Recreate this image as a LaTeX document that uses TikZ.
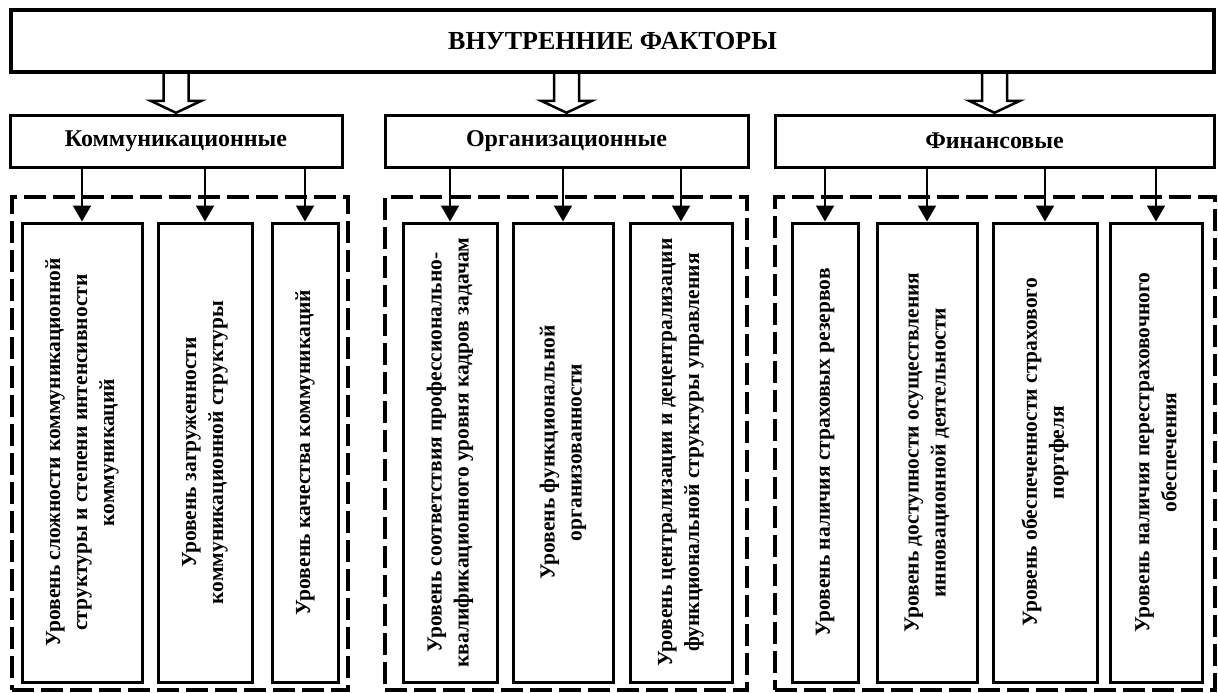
\documentclass[tikz,border=0pt]{standalone}
\usepackage{fontspec}
\setmainfont{Liberation Serif}
\usetikzlibrary{arrows.meta, positioning, calc}

\begin{document}
\begin{tikzpicture}[x=1pt, y=-1pt,
    every node/.style={draw, line width=3pt, inner sep=0pt},
    head/.style={line width=3.5pt, minimum width=1203pt, minimum height=62pt, font=\fontsize{26}{30}\selectfont\bfseries},
    cat/.style={minimum height=52pt, font=\fontsize{24}{28}\selectfont\bfseries},
    item/.style={rotate=90, minimum width=459pt, align=center, font=\fontsize{21.5}{27}\selectfont\bfseries},
    group/.style={line width=3.5pt, dash pattern=on 22pt off 7pt, minimum height=493pt},
    link/.style={line width=2pt, -{Triangle[width=18pt, length=16pt]}},
    big/.style={line width=2.5pt, miter limit=20}]
        \useasboundingbox (0,0) rectangle (1218,693);

        % Внутренние факторы
        \node[head] (top) at (612.5,41) {ВНУТРЕННИЕ ФАКТОРЫ};

        \node[cat, minimum width=332pt] (comm) at (176,141) {Коммуникационные};
        \node[cat, minimum width=363pt] (org) at (566.5,141) {Организационные};
        \node[cat, minimum width=439pt] (fin) at (994.5,141) {Финансовые};

        % полые стрелки
        \foreach \n in {comm, org, fin}
            \draw[big] ($(top.south -| \n)+(-12.5,0)$) -- ++(0,27) -- ++(-13,0) -- ++(25.5,12)
                -- ++(25.5,-12) -- ++(-13,0) -- ++(0,-27);

        % группы
        \node[group, minimum width=336pt] (g1) at (180,443.5) {};
        \node[group, minimum width=362pt] (g2) at (566,443.5) {};
        \node[group, minimum width=440pt] (g3) at (995,443.5) {};

        % коммуникационные
        \node[item, minimum height=120pt] (a1) at (82,452.5) {Уровень сложности коммуникационной\\структуры и степени интенсивности\\коммуникаций};
        \node[item, minimum height=94pt] (a2) at (205,452.5) {Уровень загруженности\\коммуникационной структуры};
        \node[item, minimum height=66pt] (a3) at (305,452.5) {Уровень качества коммуникаций};

        % организационные
        \node[item, minimum height=94pt] (b1) at (450,452.5) {Уровень соответствия профессионально-\\квалификационного уровня кадров задачам};
        \node[item, minimum height=100pt] (b2) at (563,452.5) {Уровень функциональной\\организованности};
        \node[item, minimum height=102pt] (b3) at (681,452.5) {Уровень централизации и децентрализации\\функциональной структуры управления};

        % финансовые
        \node[item, minimum height=66pt] (c1) at (825,452.5) {Уровень наличия страховых резервов};
        \node[item, minimum height=100pt] (c2) at (927,452.5) {Уровень доступности осуществления\\инновационной деятельности};
        \node[item, minimum height=104pt] (c3) at (1045,452.5) {Уровень обеспеченности страхового\\портфеля};
        \node[item, minimum height=92pt] (c4) at (1156,452.5) {Уровень наличия перестраховочного\\обеспечения};

        \foreach \i in {a1, a2, a3}
            \draw[link] (comm.south -| \i) -- (\i.east);
        \foreach \i in {b1, b2, b3}
            \draw[link] (org.south -| \i) -- (\i.east);
        \foreach \i in {c1, c2, c3, c4}
            \draw[link] (fin.south -| \i) -- (\i.east);
    \end{tikzpicture}
\end{document}
